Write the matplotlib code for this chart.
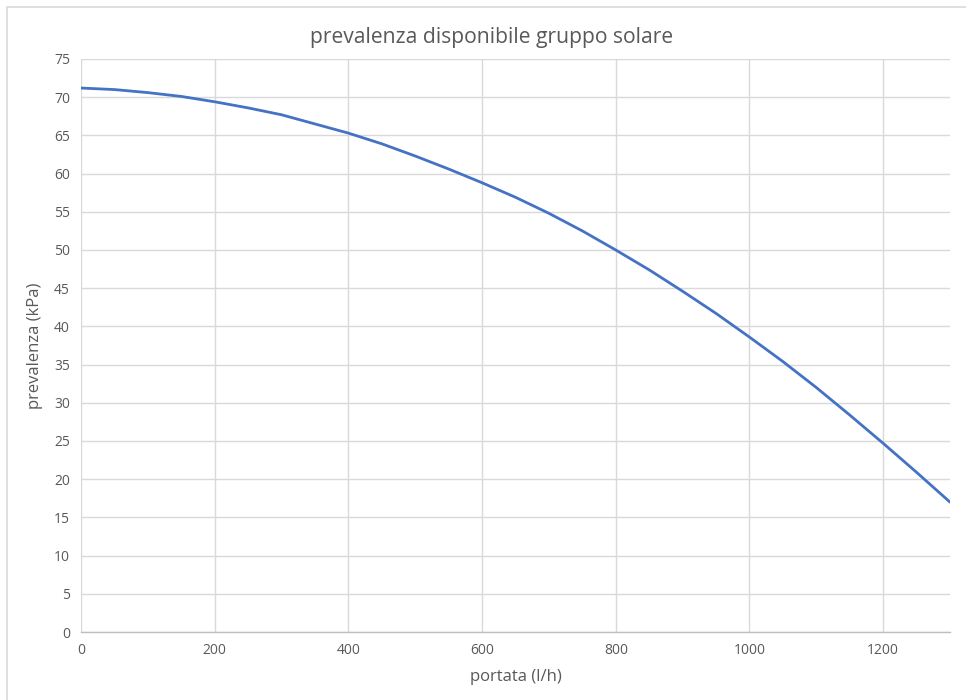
import matplotlib
matplotlib.use("Agg")
import matplotlib.pyplot as plt
from matplotlib.patches import Rectangle

portata = [0, 50, 100, 150, 200, 250, 300, 350, 400, 450, 500, 550, 600, 650,
           700, 750, 800, 850, 900, 950, 1000, 1050, 1100, 1150, 1200, 1250, 1300]
prevalenza = [71.2, 71.0, 70.6, 70.1, 69.4, 68.6, 67.7, 66.5, 65.3, 63.9, 62.3, 60.6,
              58.8, 56.9, 54.8, 52.5, 50.0, 47.4, 44.6, 41.7, 38.6, 35.4, 32.0, 28.4,
              24.7, 20.9, 17.0]
xticks = [0, 200, 400, 600, 800, 1000, 1200]
yticks = list(range(0, 80, 5))

plt.rcParams['font.family'] = ['Open Sans', 'DejaVu Sans']
W, H = 966, 700
fig = plt.figure(figsize=(W / 100, H / 100), dpi=100)
fig.patch.set_facecolor('white')

# chart-area border
fig.patches.append(Rectangle((7 / W, -0.1), 1.2, (H - 7) / H + 0.1, transform=fig.transFigure,
                             fill=False, edgecolor='#D9D9D9', lw=1.2))

ax = fig.add_axes([81 / W, 1 - 632 / H, (950 - 81) / W, (632 - 59) / H])
ax.plot(portata, prevalenza, color='#4472C4', lw=2.0, solid_capstyle='round')
ax.set_xlim(0, 1300)
ax.set_ylim(0, 75)
ax.set_xticks(xticks)
ax.set_yticks(yticks)
ax.grid(True, color='#D9D9D9', lw=1.0)
ax.set_axisbelow(True)
for s in ['top', 'right', 'left']:
    ax.spines[s].set_visible(False)
ax.spines['bottom'].set_color('#BFBFBF')
ax.spines['bottom'].set_linewidth(1.0)
ax.tick_params(axis='both', length=0, labelsize=10, labelcolor='#595959', pad=8)
ax.set_xlabel('portata (l/h)', fontsize=12, color='#595959', labelpad=8)
ax.set_ylabel('prevalenza (kPa)', fontsize=12, color='#595959', labelpad=8)
fig.text(492 / W, 1 - 38 / H, 'prevalenza disponibile gruppo solare',
         ha='center', va='center', fontsize=15.2, color='#595959')

fig.savefig('out.png', dpi=100, facecolor='white')
